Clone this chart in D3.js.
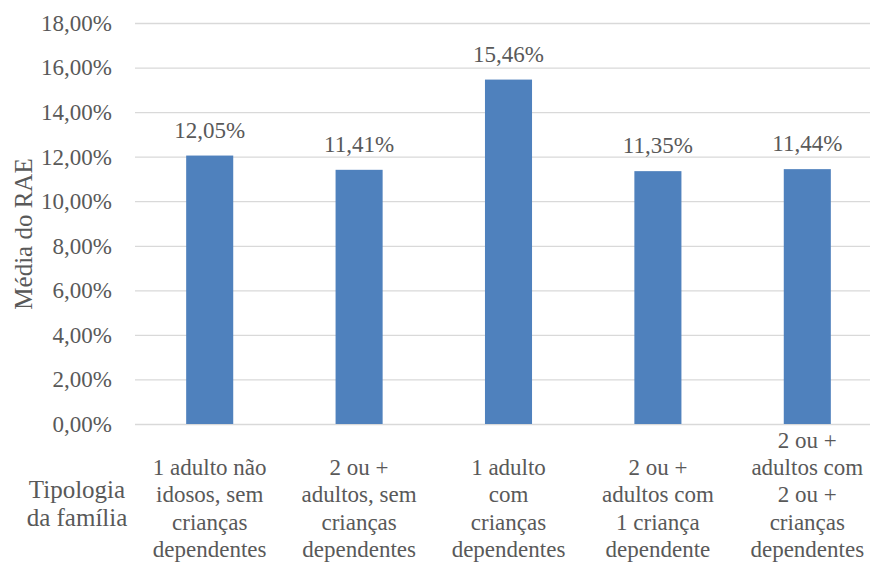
<!DOCTYPE html>
<html>
<head>
<meta charset="utf-8">
<script src="https://cdn.jsdelivr.net/npm/d3@7"></script>
<style>
  body { margin: 0; background: #fff; }
</style>
</head>
<body>
<div id="chart"></div>
<script>
const categories = [
  "1 adulto não|idosos, sem|crianças|dependentes",
  "2 ou +|adultos, sem|crianças|dependentes",
  "1 adulto|com|crianças|dependentes",
  "2 ou +|adultos com|1 criança|dependente",
  "2 ou +|adultos com|2 ou +|crianças|dependentes"
];
const values = [12.05, 11.41, 15.46, 11.35, 11.44];
const yTicks = [0, 2, 4, 6, 8, 10, 12, 14, 16, 18];
const yTitle = "Média do RAE";
const xTitle = ["Tipologia", "da família"];

const width = 870;
const height = 562;
const margin = { top: 23, right: -12, bottom: 138, left: 135 };
const graphWidth = width - margin.left - margin.right;
const graphHeight = height - margin.top - margin.bottom;

const FONT = "Liberation Serif";
const GREY = "#595959";

const fmt = (v) => v.toFixed(2).replace(".", ",") + "%";

const x = d3
  .scaleBand()
  .domain(categories)
  .range([0, graphWidth])
  .padding(0);

const y = d3.scaleLinear().domain([0, 18]).range([graphHeight, 0]);

const svg = d3
  .select("#chart")
  .append("svg")
  .attr("width", width)
  .attr("height", height);

const g = svg
  .append("g")
  .attr("transform", `translate(${margin.left}, ${margin.top})`);

// Grade e eixo Y
const yAxis = g
  .append("g")
  .call(
    d3
      .axisLeft(y)
      .tickValues(yTicks)
      .tickSize(-graphWidth)
      .tickPadding(23)
      .tickFormat(fmt)
  );
yAxis.attr("font-family", FONT).attr("font-size", 23);
yAxis.select(".domain").remove();
yAxis.selectAll(".tick line").attr("stroke", "#d9d9d9").attr("stroke-width", 1.3);
yAxis.selectAll(".tick text").attr("fill", GREY);

// Barras
const barW = x.bandwidth() * 0.315;
g.selectAll(".bar")
  .data(values)
  .enter()
  .append("rect")
  .attr("class", "bar")
  .attr("x", (d, i) => x(categories[i]) + (x.bandwidth() - barW) / 2)
  .attr("y", (d) => y(d))
  .attr("width", barW)
  .attr("height", (d) => graphHeight - y(d))
  .style("fill", "#4f81bd");

// Rótulos de dados
g.selectAll(".label")
  .data(values)
  .enter()
  .append("text")
  .attr("class", "label")
  .attr("x", (d, i) => x(categories[i]) + x.bandwidth() / 2)
  .attr("y", (d) => y(d) - 18)
  .attr("text-anchor", "middle")
  .attr("font-family", FONT)
  .attr("font-size", 23)
  .attr("fill", GREY)
  .text(fmt);

// Categorias
const lineH = 27.3;
const lastBase = 557;
categories.forEach((c, i) => {
  const lines = c.split("|");
  const t = svg
    .append("text")
    .attr("text-anchor", "middle")
    .attr("font-family", FONT)
    .attr("font-size", 23)
    .attr("fill", GREY);
  lines.forEach((ln, j) => {
    t.append("tspan")
      .attr("x", margin.left + x(c) + x.bandwidth() / 2)
      .attr("y", lastBase - (lines.length - 1 - j) * lineH)
      .text(ln);
  });
});

// Títulos dos eixos
svg
  .append("text")
  .attr("transform", "translate(32, 234) rotate(-90)")
  .attr("text-anchor", "middle")
  .attr("font-family", FONT)
  .attr("font-size", 25)
  .attr("fill", GREY)
  .text(yTitle);

const xt = svg
  .append("text")
  .attr("text-anchor", "middle")
  .attr("font-family", FONT)
  .attr("font-size", 25)
  .attr("fill", GREY);
xTitle.forEach((ln, j) => {
  xt.append("tspan")
    .attr("x", 77)
    .attr("y", 498 + j * 28)
    .text(ln);
});
</script>
</body>
</html>
